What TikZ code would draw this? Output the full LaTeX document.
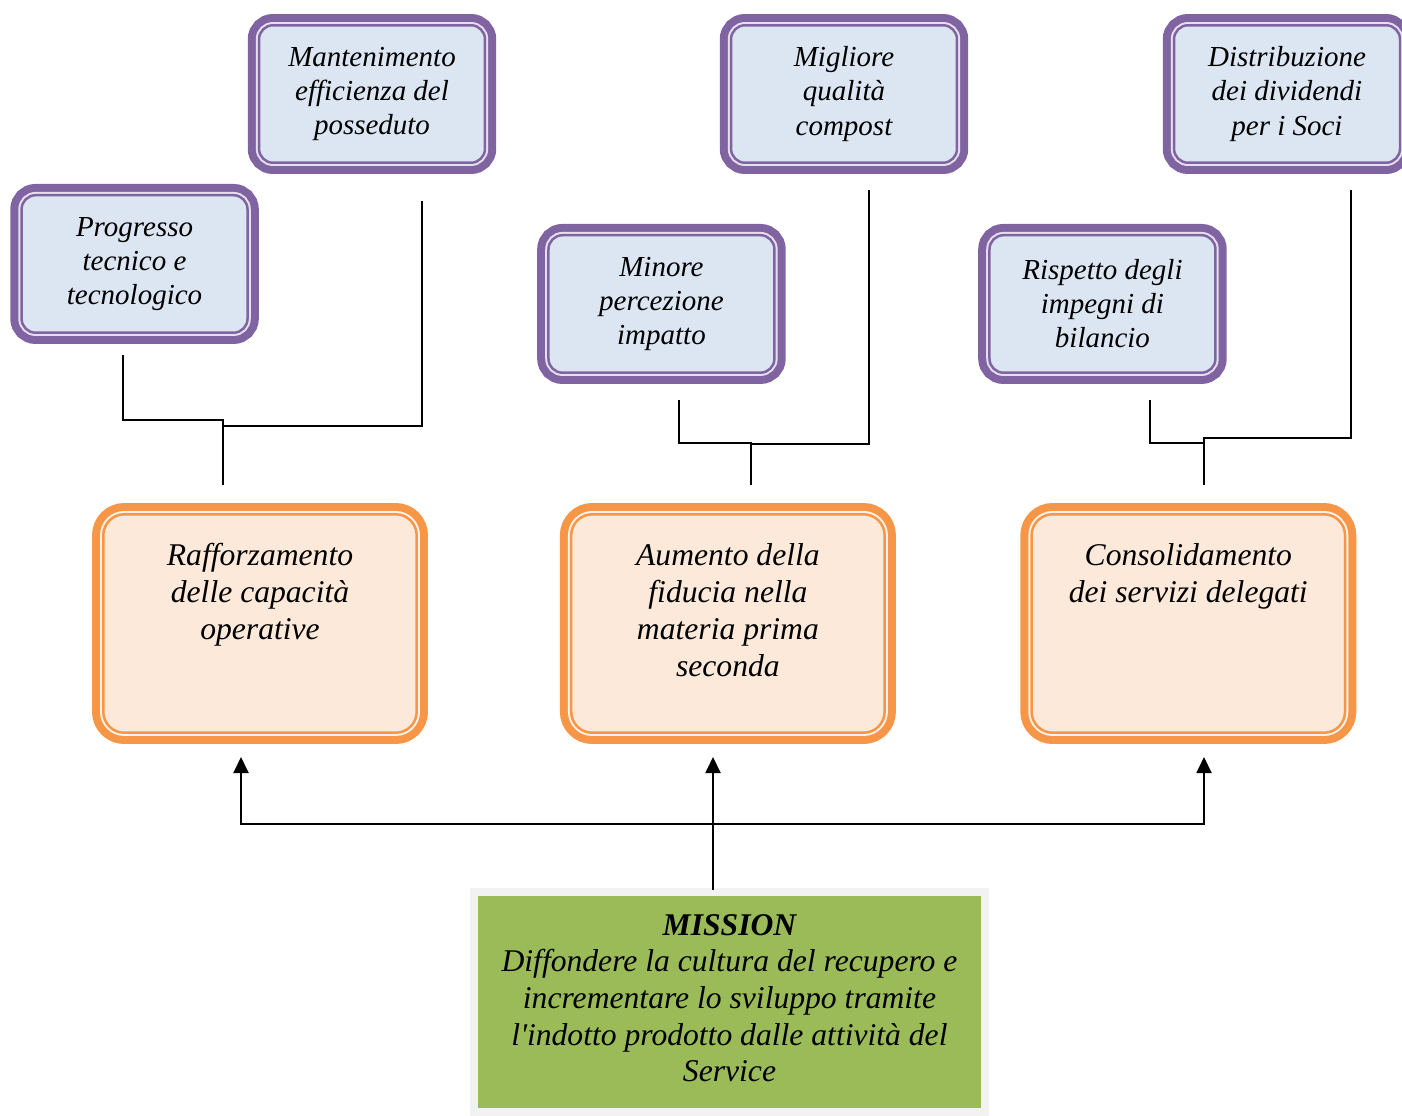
\documentclass[tikz,border=0pt]{standalone}
\usepackage{fontspec}
\setmainfont{Liberation Serif}
\usetikzlibrary{positioning,arrows.meta}

\definecolor{aimpurple}{HTML}{8064A2}
\definecolor{aimblue}{HTML}{DCE6F2}
\definecolor{aimgap}{HTML}{E6E0EE}
\definecolor{goalorange}{HTML}{F79646}
\definecolor{goalfill}{HTML}{FDE9D9}
\definecolor{goalgap}{HTML}{FEF2EA}
\definecolor{missiongreen}{HTML}{9BBB59}
\definecolor{missionframe}{HTML}{F2F2F2}

\tikzset{
  aimbox/.style={rounded corners=0.28cm, minimum width=4.52cm, minimum height=2.75cm,
    inner sep=0pt, align=center, font=\fontsize{16.5}{19.4}\selectfont\itshape,
    fill=aimblue, draw=aimpurple, line width=0.05cm,
    preaction={draw=aimpurple, line width=0.45cm},
    preaction={draw=aimgap, line width=0.13cm}},
  goalbox/.style={rounded corners=0.42cm, minimum width=6.27cm, minimum height=4.37cm,
    inner sep=0pt, font=\fontsize{18}{21}\selectfont\itshape,
    fill=goalfill, draw=goalorange, line width=0.05cm,
    preaction={draw=goalorange, line width=0.45cm},
    preaction={draw=goalgap, line width=0.13cm}},
  missionbox/.style={minimum width=10.06cm, minimum height=4.24cm, inner sep=0pt,
    align=center, font=\fontsize{18}{20.8}\selectfont\itshape,
    fill=missiongreen, preaction={draw=missionframe, line width=0.32cm}},
  link/.style={line width=1.1pt},
  feed/.style={line width=1.1pt, -{Triangle[length=0.32cm,width=0.3cm]}}
}

% text of the orange boxes starts at the top
\newcommand{\goaltext}[1]{\parbox[c][4.37cm][t]{6.2cm}{\centering\rule{0pt}{1.03cm}#1}}

\begin{document}
\begin{tikzpicture}[x=0.02cm, y=-0.02cm]
\useasboundingbox (0,0) rectangle (1402,1115);

% ======================================
% AIMS (PURPLE)
% ======================================
\node[aimbox] (mant) at (372,94) {Mantenimento\\ efficienza del\\ posseduto};
\node[aimbox] (migl) at (844,94) {Migliore\\ qualità\\ compost};
\node[aimbox] (dist) at (1287,94) {Distribuzione\\ dei dividendi\\ per i Soci};

\node[aimbox, below left=0.6cm and 0.18cm of mant] (prog) {Progresso\\ tecnico e\\ tecnologico};
\node[aimbox, below right=1.4cm and 1.22cm of mant] (min) {Minore\\ percezione\\ impatto};
\node[aimbox, below right=1.4cm and 0.6cm of migl] (risp) {Rispetto degli\\ impegni di\\ bilancio};

% ======================================
% GOALS (ORANGE)
% ======================================
\node[goalbox] (raf) at (260,623.5) {\goaltext{Rafforzamento\\ delle capacità\\ operative}};
\node[goalbox, right=3.04cm of raf] (aum) {\goaltext{Aumento della\\ fiducia nella\\ materia prima\\ seconda}};
\node[goalbox, right=2.89cm of aum] (cons) {\goaltext{Consolidamento\\ dei servizi delegati}};

% ======================================
% MISSION (GREEN)
% ======================================
\node[missionbox] (mission) at (729.5,1002) {\textbf{MISSION}\\ Diffondere la cultura del recupero e\\ incrementare lo sviluppo tramite\\ l\textquotesingle indotto prodotto dalle attività del\\ Service\rule[-0.16cm]{0pt}{0pt}};

% ======================================
% AIMS TO GOALS
% ======================================
\coordinate (prog out) at (123,355);
\coordinate (mant out) at (422,201);
\coordinate (raf join) at (223,420);
\coordinate (raf join2) at (223,426);
\coordinate (raf in) at (223,485);
\draw [link] (prog out) |- (raf join) -- (raf in);
\draw [link] (mant out) |- (raf join2);

\coordinate (min out) at (679,400);
\coordinate (migl out) at (869,190);
\coordinate (aum join) at (751,443);
\coordinate (aum join2) at (751,444);
\coordinate (aum in) at (751,485);
\draw [link] (min out) |- (aum join) -- (aum in);
\draw [link] (migl out) |- (aum join2);

\coordinate (risp out) at (1150,400);
\coordinate (dist out) at (1351,190);
\coordinate (cons join) at (1204,443);
\coordinate (cons join2) at (1204,438);
\coordinate (cons in) at (1204,485);
\draw [link] (risp out) |- (cons join);
\draw [link] (dist out) |- (cons join2) -- (cons in);

% ======================================
% MISSION TO GOALS
% ======================================
\coordinate (mission out) at (713,890);
\coordinate (fork) at (713,824);
\coordinate (raf tip) at (241,757);
\coordinate (aum tip) at (713,757);
\coordinate (cons tip) at (1204,757);
\draw [feed] (mission out) -- (aum tip);
\draw [feed] (fork) -| (raf tip);
\draw [feed] (fork) -| (cons tip);

\end{tikzpicture}
\end{document}
